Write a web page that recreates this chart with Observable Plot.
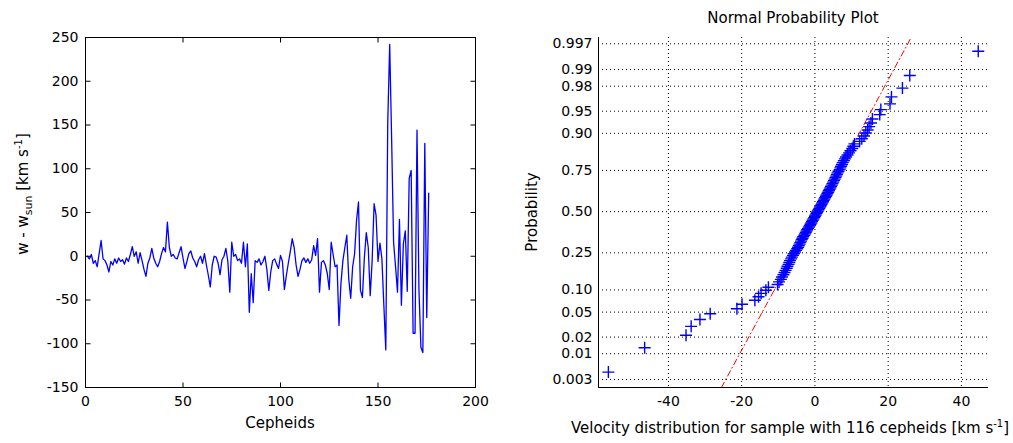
<!DOCTYPE html>
<html><head><meta charset="utf-8">
<script src="https://cdn.jsdelivr.net/npm/d3@7"></script>
<script src="https://cdn.jsdelivr.net/npm/@observablehq/plot@0.6"></script>
<style>
body{margin:0;background:#fff;}
#wrap{position:relative;width:1013px;height:443px;overflow:hidden;background:#fff;}
#left{position:absolute;left:0;top:0;}
#right{position:absolute;left:500px;top:0;}
svg text{font-family:"DejaVu Sans";}
</style></head><body><div id="wrap"><div id="left"></div><div id="right"></div></div>
<script>
// ---- Left panel data: w - w_sun per cepheid index (1..176)
const wDiff = [
 0,-3,2,-8,-5,-12,3,18,-3,-5,
 -10,-18,-6,-10,-3,-8,-2,-6,-4,-9,
 -2,-6,2,11,0,5,-8,4,-5,-15,
 -23,-8,-2,9,-2,-8,-12,-6,3,10,
 5,39,10,0,2,-2,-3,4,11,-2,
 -14,-6,3,6,-2,-6,-12,-4,0,-8,
 3,-10,-22,-35,-10,0,-1,-8,-21,-4,
 0,9,-6,-41,16,0,2,-5,-3,-8,
 16,-12,14,-64,-20,-53,-5,-7,-3,-10,
 -6,0,-15,-39,-18,-5,-3,-9,-14,1,
 -6,-38,-22,-8,5,20,10,-10,-23,-15,
 -5,-2,-7,-3,-8,-4,12,1,20,-41,
 -7,-5,-10,-20,-38,16,2,-12,-10,-79,
 -31,-5,10,24,-26,-48,-12,3,41,62,
 -39,-47,-2,27,10,-45,-5,60,47,-6,
 15,-3,-56,-107,153,242,133,16,-12,-41,
 42,-56,14,29,-40,89,98,-88,-88,144,
 -38,-104,-110,129,-70,72
];
const xTicksL = [0, 50, 100, 150, 200];
const yTicksL = [-150, -100, -50, 0, 50, 100, 150, 200, 250];

// ---- Right panel data: sorted velocities of 116 cepheids (km/s)
const velocities = [
 -56.4,-46.5,-35.2,-33.8,-31.4,-28.6,-21.3,-19.9,-16.4,-15.4,
 -14.7,-13.4,-12.7,-10.2,-9.8,-9.3,-9.0,-8.6,-8.3,-8.0,
 -7.7,-7.5,-7.2,-7.0,-6.8,-6.5,-6.3,-6.0,-5.75,-5.45,
 -5.15,-4.85,-4.6,-4.4,-4.2,-4.0,-3.8,-3.6,-3.4,-3.2,
 -2.9,-2.7,-2.5,-2.3,-2.1,-1.9,-1.6,-1.4,-1.2,-1.0,
 -0.8,-0.6,-0.4,-0.2,0.0,0.2,0.4,0.6,0.8,1.0,
 1.2,1.4,1.6,1.8,2.0,2.2,2.4,2.6,2.8,3.0,
 3.2,3.4,3.6,3.8,4.0,4.2,4.4,4.6,4.8,5.0,
 5.2,5.4,5.6,5.8,6.0,6.2,6.45,6.75,6.95,7.15,
 7.4,7.6,7.9,8.2,8.5,8.9,9.3,9.7,10.2,10.5,
 10.8,12.2,12.8,13.4,13.9,14.4,14.8,15.3,15.7,17.7,
 18.0,20.5,20.9,23.9,25.9,44.6
];
const probTicks = [0.003,0.01,0.02,0.05,0.10,0.25,0.50,0.75,0.90,0.95,0.98,0.99,0.997];
const probLabels = ["0.003","0.01","0.02","0.05","0.10","0.25","0.50","0.75","0.90","0.95","0.98","0.99","0.997"];
const xTicksR = [-40, -20, 0, 20, 40];

// inverse standard normal CDF (Acklam) – the probability-paper scale
function norminv(p){
  const a=[-3.969683028665376e+01,2.209460984245205e+02,-2.759285104469687e+02,1.383577518672690e+02,-3.066479806614716e+01,2.506628277459239e+00];
  const b=[-5.447609879822406e+01,1.615858368580409e+02,-1.556989798598866e+02,6.680131188771972e+01,-1.328068155288572e+01];
  const c=[-7.784894002430293e-03,-3.223964580411365e-01,-2.400758277161838e+00,-2.549732539343734e+00,4.374664141464968e+00,2.938163982698783e+00];
  const d=[7.784695709041462e-03,3.224671290700398e-01,2.445134137142996e+00,3.754408661907416e+00];
  const pl=0.02425, ph=1-pl; let q,r;
  if(p<pl){q=Math.sqrt(-2*Math.log(p));return (((((c[0]*q+c[1])*q+c[2])*q+c[3])*q+c[4])*q+c[5])/((((d[0]*q+d[1])*q+d[2])*q+d[3])*q+1);}
  if(p<=ph){q=p-0.5;r=q*q;return (((((a[0]*r+a[1])*r+a[2])*r+a[3])*r+a[4])*r+a[5])*q/(((((b[0]*r+b[1])*r+b[2])*r+b[3])*r+b[4])*r+1);}
  q=Math.sqrt(-2*Math.log(1-p));return -(((((c[0]*q+c[1])*q+c[2])*q+c[3])*q+c[4])*q+c[5])/((((d[0]*q+d[1])*q+d[2])*q+d[3])*q+1);
}

const n = velocities.length;
const probData = velocities.map((v, i) => ({v, z: norminv((i + 0.5) / n)}));
// quartiles (MATLAB prctile style) for the reference line
function prct(sorted, p){ const pos = n * p + 0.5; const lo = Math.floor(pos); const f = pos - lo; return sorted[lo-1] + f * (sorted[lo] - sorted[lo-1]); }
const q1 = prct(velocities, 0.25), q3 = prct(velocities, 0.75);
const z1 = norminv(0.25), z3 = norminv(0.75);
const xDomR = [-59.1, 47.4], yDomR = [-2.879, 2.851];
const lineX = z => q1 + (z - z1) * (q3 - q1) / (z3 - z1);
const fitPts = yDomR.map(z => ({z, x: lineX(z)}));
const zTicks = probTicks.map(norminv);
const zLabel = new Map(zTicks.map((z, i) => [z, probLabels[i]]));

// custom symbols
const tickUp = {draw(c){c.moveTo(0,0);c.lineTo(0,-5);}};
const tickDown = {draw(c){c.moveTo(0,0);c.lineTo(0,5);}};
const tickRight = {draw(c){c.moveTo(0,0);c.lineTo(5,0);}};
const tickLeft = {draw(c){c.moveTo(0,0);c.lineTo(-5,0);}};
const plusSym = {draw(c){const r=6;c.moveTo(-r,0);c.lineTo(r,0);c.moveTo(0,-r);c.lineTo(0,r);}};

const baseStyle = {fontFamily: "DejaVu Sans", fontSize: "14px", color: "black", background: "white", overflow: "visible"};

const leftSvg = Plot.plot({
  width: 500, height: 443, marginLeft: 85, marginRight: 25, marginTop: 37, marginBottom: 56,
  style: baseStyle,
  x: {domain: [0, 200]}, y: {domain: [-150, 250]},
  marks: [
    Plot.line(wDiff, {x: (d, i) => i + 1, y: d => d, stroke: "#0000ff", strokeWidth: 1.3}),
    Plot.frame({stroke: "black"}),
    Plot.dot(xTicksL, {x: d => d, frameAnchor: "bottom", symbol: tickUp, r: 3, stroke: "black", fill: "none", strokeWidth: 1}),
    Plot.dot(xTicksL, {x: d => d, frameAnchor: "top", symbol: tickDown, r: 3, stroke: "black", fill: "none", strokeWidth: 1}),
    Plot.dot(yTicksL, {y: d => d, frameAnchor: "left", symbol: tickRight, r: 3, stroke: "black", fill: "none", strokeWidth: 1}),
    Plot.dot(yTicksL, {y: d => d, frameAnchor: "right", symbol: tickLeft, r: 3, stroke: "black", fill: "none", strokeWidth: 1}),
    Plot.axisX(xTicksL, {tickSize: 0, tickPadding: 9, tickFormat: d => String(d), label: null}),
    Plot.axisY(yTicksL, {tickSize: 0, tickPadding: 7, tickFormat: d => String(d), label: null})
  ]
});
document.getElementById("left").appendChild(leftSvg);

const rightSvg = Plot.plot({
  width: 513, height: 443, marginLeft: 98, marginRight: 25, marginTop: 37, marginBottom: 56,
  style: baseStyle,
  x: {domain: xDomR}, y: {domain: yDomR},
  marks: [
    Plot.ruleY(zTicks, {stroke: "black", strokeDasharray: "1,3", strokeWidth: 1}),
    Plot.ruleX(xTicksR, {stroke: "black", strokeDasharray: "1,3", strokeWidth: 1}),
    Plot.line(fitPts, {x: "x", y: "z", stroke: "#ff0000", strokeWidth: 1, strokeDasharray: "6,3,1,3"}),
    Plot.dot(probData, {x: "v", y: "z", symbol: plusSym, r: 3, stroke: "#0000ff", fill: "none", strokeWidth: 1.4}),
    Plot.ruleX([xDomR[0]], {stroke: "black"}),
    Plot.ruleY([yDomR[0]], {stroke: "black"}),
    Plot.axisX(xTicksR, {tickSize: 0, tickPadding: 9, tickFormat: d => String(d), label: null}),
    Plot.axisY(zTicks, {tickSize: 0, tickPadding: 6, tickFormat: z => zLabel.get(z), label: null})
  ]
});
document.getElementById("right").appendChild(rightSvg);

// ---- text labels
const L = d3.select(leftSvg);
const yl = L.append("text").attr("transform", "translate(28,194) rotate(-90)")
  .attr("text-anchor", "middle").attr("font-size", 15).attr("fill", "black");
yl.append("tspan").text("w - w");
yl.append("tspan").attr("dy", 4).attr("font-size", 11).text("sun");
yl.append("tspan").attr("dy", -4).text(" [km s");
yl.append("tspan").attr("dy", -6).attr("font-size", 10).text("-1");
yl.append("tspan").attr("dy", 6).text("]");
L.append("text").attr("x", 280).attr("y", 428).attr("text-anchor", "middle")
  .attr("font-size", 15).attr("fill", "black").text("Cepheids");

const R = d3.select(rightSvg);
R.append("text").attr("x", 293).attr("y", 23).attr("text-anchor", "middle")
  .attr("font-size", 15).attr("fill", "black").text("Normal Probability Plot");
R.append("text").attr("transform", "translate(37,212) rotate(-90)").attr("text-anchor", "middle")
  .attr("font-size", 15).attr("fill", "black").text("Probability");
const xl = R.append("text").attr("x", 290).attr("y", 433).attr("text-anchor", "middle")
  .attr("font-size", 15).attr("fill", "black");
xl.append("tspan").text("Velocity distribution for sample with 116 cepheids [km s");
xl.append("tspan").attr("dy", -6).attr("font-size", 10).text("-1");
xl.append("tspan").attr("dy", 6).text("]");
</script></body></html>
